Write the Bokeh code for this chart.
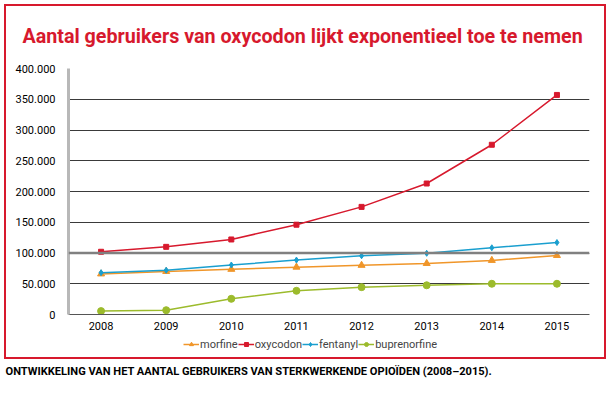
from bokeh.plotting import figure
from bokeh.models import (FactorRange, Range1d, Legend, LegendItem, Span, Title,
                          CustomJSTickFormatter, FixedTicker)
from bokeh.embed import file_html
from bokeh.resources import INLINE

years = ["2008", "2009", "2010", "2011", "2012", "2013", "2014", "2015"]
morfine = [66000, 70000, 73500, 77000, 80000, 83000, 88000, 96000]
oxycodon = [102000, 110000, 122000, 146000, 175000, 213000, 276000, 357000]
fentanyl = [68000, 72000, 80500, 88500, 95500, 99500, 108500, 117000]
buprenorfine = [5500, 7000, 25500, 38500, 44500, 47500, 50000, 50000]
y_ticks = [0, 50000, 100000, 150000, 200000, 250000, 300000, 350000, 400000]

title_text = "Aantal gebruikers van oxycodon lijkt exponentieel toe te nemen"
caption_text = "ONTWIKKELING VAN HET AANTAL GEBRUIKERS VAN STERKWERKENDE OPIOÏDEN (2008–2015)."

FONT = "Roboto"
RED = "#d7192d"
W, H = 610, 392
FRAME_TOP, ZERO_Y, FRAME_BOTTOM = 68, 314, 352
Y_MAX = y_ticks[-1]
y_start = -Y_MAX * (FRAME_BOTTOM - ZERO_Y) / (ZERO_Y - FRAME_TOP)

p = figure(width=W, height=H, x_range=FactorRange(*years, range_padding=0),
           y_range=Range1d(y_start, Y_MAX), output_backend="svg", toolbar_location=None,
           min_border_left=68, min_border_right=W - 589, min_border_top=FRAME_TOP,
           min_border_bottom=H - FRAME_BOTTOM)
p.outline_line_color = None
p.border_fill_color = None
p.background_fill_color = None
g = "linear-gradient(%s,%s)" % (RED, RED)
p.styles = {"background": ", ".join([
    g + " 4px 4px / 602px 2px no-repeat",
    g + " 4px 357px / 602px 2px no-repeat",
    g + " 4px 4px / 2px 355px no-repeat",
    g + " 604px 4px / 2px 355px no-repeat",
    "white"])}

p.title.text = title_text
p.title.text_font = FONT
p.title.text_font_style = "bold"
p.title.text_font_size = "19.7px"
p.title.text_color = RED
p.title.align = "left"
p.title.offset = -46
p.title.standoff = 41

p.yaxis.ticker = FixedTicker(ticks=y_ticks)
p.yaxis.bounds = (0, Y_MAX)
p.yaxis.formatter = CustomJSTickFormatter(
    code="return tick == 0 ? '0' : (tick/1000).toFixed(0) + '.000';")
for ax in (p.xaxis, p.yaxis):
    ax.major_tick_line_color = None
    ax.minor_tick_line_color = None
    ax.major_label_text_font = FONT
    ax.major_label_text_font_size = "11px"
    ax.major_label_text_color = "black"
p.yaxis.axis_line_color = "#b8b8b8"
p.yaxis.axis_line_width = 3
p.yaxis.major_label_standoff = 7
p.xaxis.fixed_location = 0
p.xaxis.axis_line_color = "#555555"
p.xaxis.axis_line_width = 1
p.xaxis.major_label_standoff = 1
p.xgrid.grid_line_color = None
p.ygrid.grid_line_color = "#3a3a3a"
p.ygrid.grid_line_width = 1.1
p.ygrid.ticker = FixedTicker(ticks=y_ticks)
p.add_layout(Span(location=100000, dimension="width", line_color="#808080", line_width=2.5))

series = [("morfine", morfine, "#f0962a", "triangle", 7),
          ("oxycodon", oxycodon, RED, "square", 5),
          ("fentanyl", fentanyl, "#1a9fcf", "diamond", 6),
          ("buprenorfine", buprenorfine, "#9cbb2c", "circle", 7)]
items = []
for name, vals, col, mk, sz in series:
    r1 = p.line(years, vals, line_color=col, line_width=1.5)
    r2 = p.scatter(years, vals, marker=mk, size=sz, fill_color=col, line_color=col)
    items.append(LegendItem(label=name, renderers=[r1, r2]))

legend = Legend(items=items, orientation="horizontal", location=(115, 1),
                label_text_font=FONT, label_text_font_size="11px", label_height=14,
                glyph_width=16, glyph_height=10, spacing=0, label_standoff=1,
                padding=0, margin=0, background_fill_alpha=0, border_line_color=None)
p.add_layout(legend, "center")

cap = Title(text=caption_text, text_font=FONT, text_font_style="bold",
            text_font_size="11.1px", text_color="black", align="left",
            offset=-63, standoff=20)
p.add_layout(cap, "below")

open("out.html", "w").write(file_html(p, INLINE))
